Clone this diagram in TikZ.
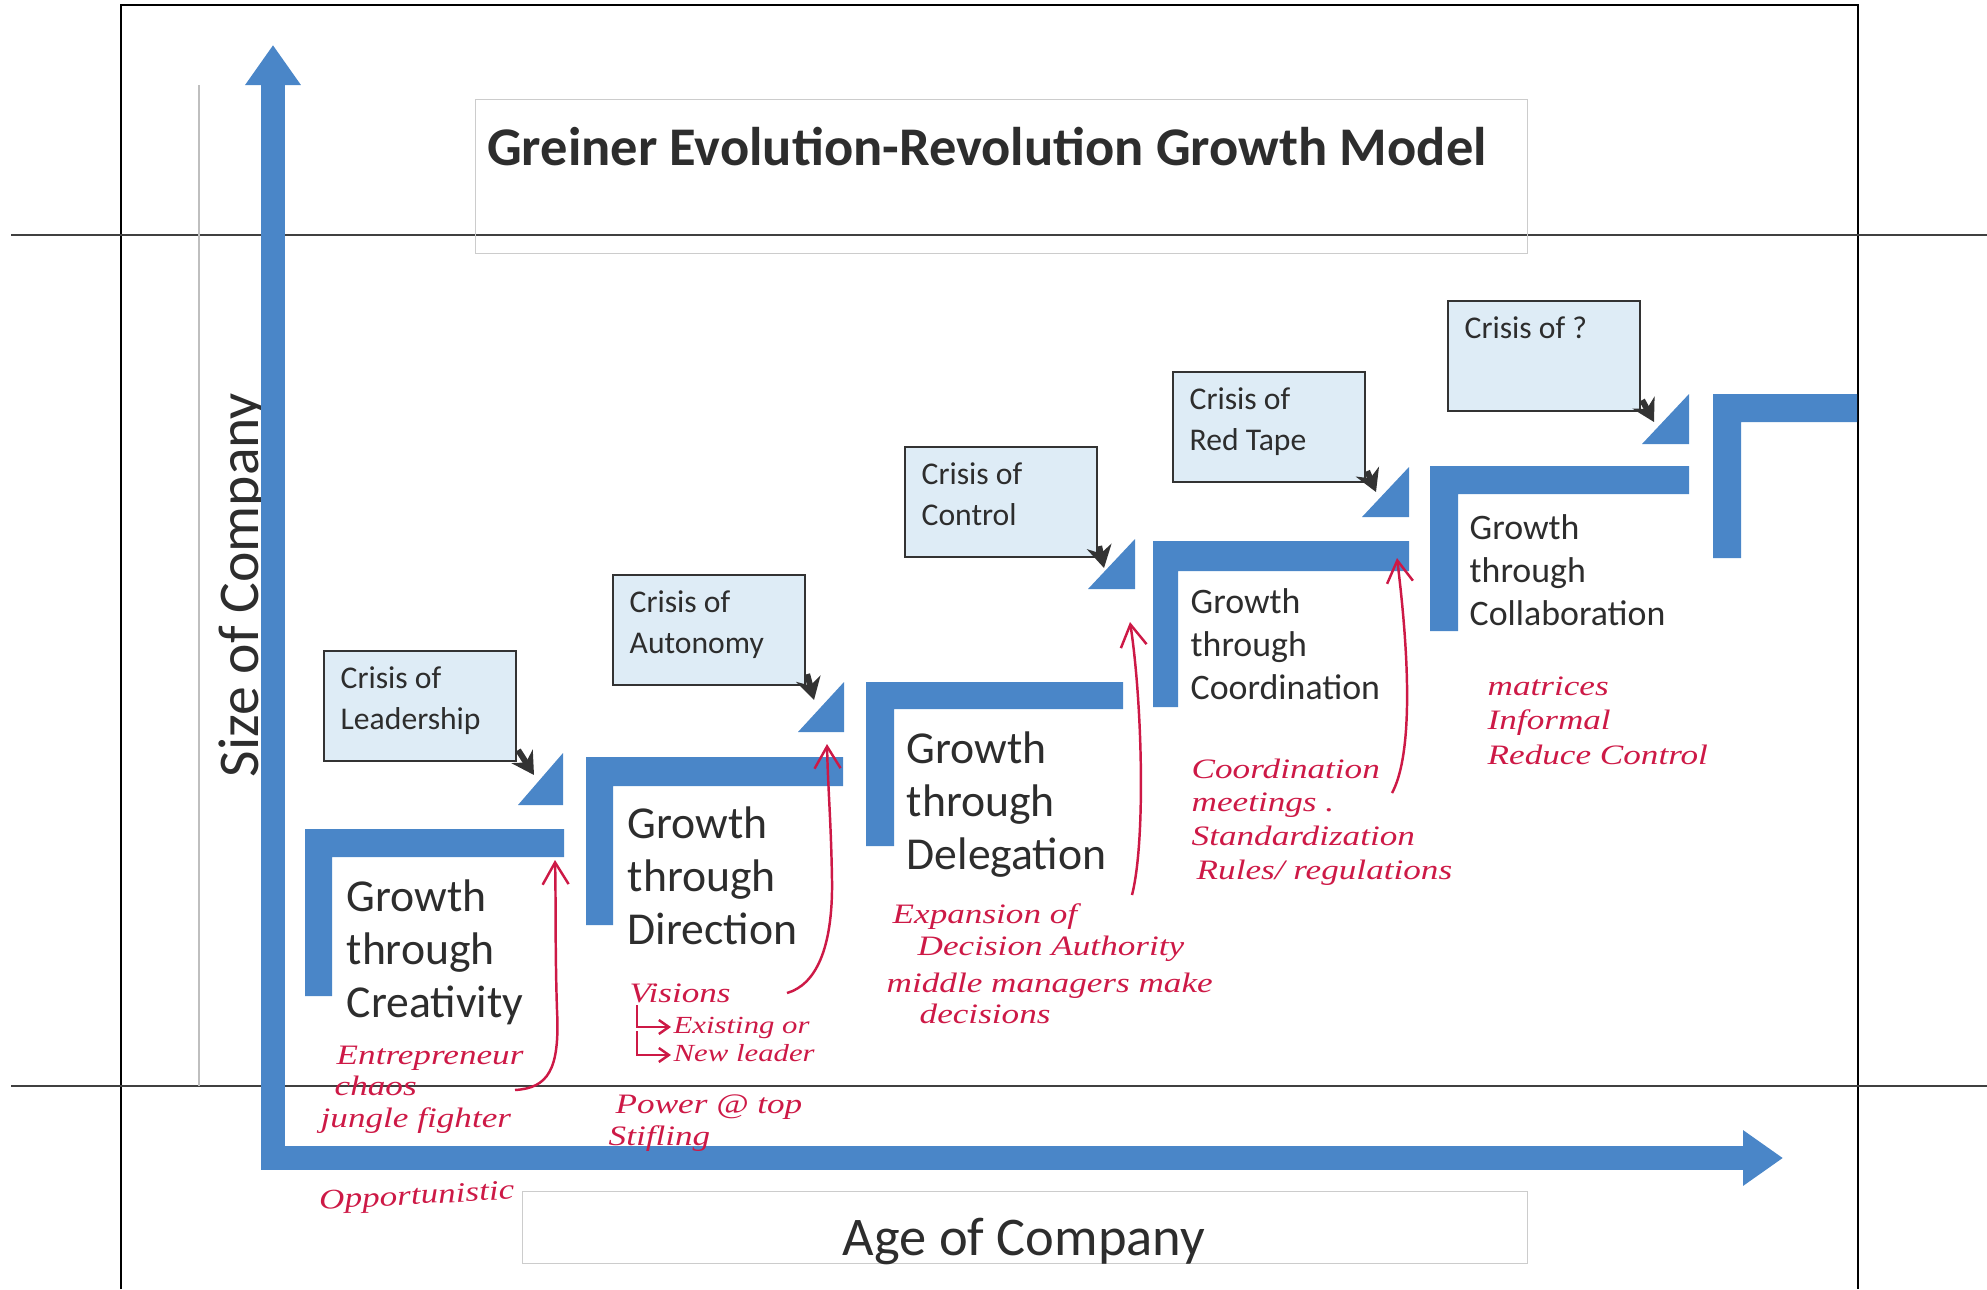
\documentclass[tikz,border=0pt]{standalone}
\usepackage{fontspec}
\setmainfont{Carlito}
\newfontfamily\handfont[FakeStretch=1.25]{Liberation Serif}
\usetikzlibrary{arrows.meta,positioning,calc}

\definecolor{stepblue}{RGB}{74,134,200}
\definecolor{crisisfill}{RGB}{222,236,246}
\definecolor{pen}{RGB}{205,25,70}
\definecolor{ink}{RGB}{45,45,45}

\begin{document}
\begin{tikzpicture}[
    x=0.1mm, y=-0.1mm,
    crisis/.style={rectangle, draw=black!80, fill=crisisfill, line width=0.6pt, anchor=north west, minimum width=19.2mm, minimum height=11mm, inner sep=0pt},
    crisistext/.style={anchor=north west, align=left, inner sep=0pt, text=ink, font=\fontsize{9}{11.6}\selectfont},
    growth/.style={anchor=north west, align=left, inner sep=0pt, text=ink, font=\fontsize{13}{15.1}\selectfont},
    growthsmall/.style={growth, font=\fontsize{10.2}{12.2}\selectfont},
    note/.style={anchor=north west, align=left, inner sep=0pt, text=pen, font=\handfont\itshape\fontsize{8}{9}\selectfont},
    notearrow/.style={draw=pen, line width=0.7pt, -{Straight Barb[length=2.2mm,width=2.6mm]}},
    forkarrow/.style={draw=pen, line width=0.7pt, -{Straight Barb[length=1mm,width=1.4mm]}},
    crisisarrow/.style={draw=black!80, line width=1.7pt, -{Stealth[length=2.2mm,width=2.5mm]}},
    axis/.style={draw=stepblue, line width=2.4mm, line join=miter, {Triangle[length=4mm,width=5.3mm]}-{Triangle[length=4mm,width=5.3mm]}},
    scanline/.style={draw=black!75, line width=0.7pt}
]
\useasboundingbox (0,0) rectangle (1987,1289);

% page frame and ruling
\draw[line width=0.8pt] (121,1289) -- (121,5) -- (1858,5) -- (1858,1289);
\draw[scanline] (11,235) -- (1987,235);
\draw[scanline] (11,1086) -- (1987,1086);
\draw[black!25, line width=0.4pt] (199,85) -- (199,1086);

% Title and axis labels
\node[draw=black!20, minimum width=105.2mm, minimum height=15.4mm, anchor=north west] (titlebox) at (475,99) {};
\node[anchor=base, text=ink, font=\bfseries\fontsize{15.5}{18}\selectfont] (title) at (987,165) {Greiner Evolution-Revolution Growth Model};
\node[draw=black!20, minimum width=100.5mm, minimum height=7.2mm, anchor=north west] (agebox) at (522,1191) {};
\node[text=ink, font=\fontsize{15.5}{18}\selectfont] (agelabel) at (1024,1241) {Age of Company};
\node[rotate=90, text=ink, font=\fontsize{16.4}{19}\selectfont] (sizelabel) at (243,585) {Size of Company};

% Axes
\draw[axis] (273,45) -- (273,1158) -- (1783,1158);

% Steps
\fill[stepblue] (305,996) -- (305,829) -- (564,829) -- (564,857) -- (332,857) -- (332,996) -- cycle;
\fill[stepblue] (586,925) -- (586,757) -- (843,757) -- (843,786) -- (613,786) -- (613,925) -- cycle;
\fill[stepblue] (866,846) -- (866,682) -- (1123,682) -- (1123,709) -- (894,709) -- (894,846) -- cycle;
\fill[stepblue] (1153,707) -- (1153,541) -- (1409,541) -- (1409,571) -- (1178,571) -- (1178,707) -- cycle;
\fill[stepblue] (1430,631) -- (1430,466) -- (1689,466) -- (1689,494) -- (1458,494) -- (1458,631) -- cycle;
\fill[stepblue] (1713,558) -- (1713,394) -- (1857,394) -- (1857,422) -- (1741,422) -- (1741,558) -- cycle;

% Revolution wedges
\fill[stepblue] (518,805) -- (563,753) -- (563,805) -- cycle;
\fill[stepblue] (798,732) -- (844,682) -- (844,732) -- cycle;
\fill[stepblue] (1088,589) -- (1135,539) -- (1135,589) -- cycle;
\fill[stepblue] (1362,517) -- (1409,467) -- (1409,517) -- cycle;
\fill[stepblue] (1642,444) -- (1689,394) -- (1689,444) -- cycle;
\coordinate (w1) at (534,775);
\coordinate (w2) at (814,700);
\coordinate (w3) at (1104,568);
\coordinate (w4) at (1376,492);
\coordinate (w5) at (1654,422);

% Growth phases
\node[growth] (g1) at (346,879) {Growth\\through\\Creativity};
\node[growth] (g2) at (627,806) {Growth\\through\\Direction};
\node[growth] (g3) at (906,731) {Growth\\through\\Delegation};
\node[growthsmall] (g4) at (1190,588) {Growth\\through\\Coordination};
\node[growthsmall] (g5) at (1469,514) {Growth\\through\\Collaboration};

% Crises
\node[crisis] (c1) at (323,650) {};
\node[crisistext] (c1txt) at ([shift={(17,16)}]c1.north west) {Crisis of\\Leadership};
\node[crisis] (c2) at (612,574) {};
\node[crisistext] (c2txt) at ([shift={(17,16)}]c2.north west) {Crisis of\\Autonomy};
\node[crisis] (c3) at (904,446) {};
\node[crisistext] (c3txt) at ([shift={(17,16)}]c3.north west) {Crisis of\\Control};
\node[crisis] (c4) at (1172,371) {};
\node[crisistext] (c4txt) at ([shift={(17,16)}]c4.north west) {Crisis of\\Red Tape};
\node[crisis] (c5) at (1447,300) {};
\node[crisistext] (c5txt) at ([shift={(17,16)}]c5.north west) {Crisis of ?};

\draw[crisisarrow] ([shift={(1,-12)}]c1.south east) -- (w1);
\draw[crisisarrow] ([shift={(1,-12)}]c2.south east) -- (w2);
\draw[crisisarrow] ([shift={(1,-12)}]c3.south east) -- (w3);
\draw[crisisarrow] ([shift={(1,-12)}]c4.south east) -- (w4);
\draw[crisisarrow] ([shift={(1,-12)}]c5.south east) -- (w5);

% pen notes
\node[note] (n1) at (320,1045) {\hspace*{1.6mm}Entrepreneur\\\hspace*{1.4mm}chaos\\jungle fighter};
\node[note, rotate=3] (n1op) at (318,1190) {Opportunistic};

\node[note] (n2a) at (629,983) {Visions};
\node[note, font=\handfont\itshape\fontsize{7}{8}\selectfont] (n2b) at (673,1016) {Existing or\\New leader};
\node[note] (n2c) at (608,1094) {\hspace*{0.7mm}Power @ top\\Stifling};
\draw[forkarrow] ([shift={(8,2)}]n2a.south west) |- ([shift={(-2,11)}]n2b.north west);
\draw[forkarrow] ([shift={(8,28)}]n2a.south west) |- ([shift={(-2,39)}]n2b.north west);

\node[note] (n3a) at (892,903) {Expansion of\\\hspace*{2.5mm}Decision Authority};
\node[note] (n3b) at (886,972) {middle managers make\\\hspace*{3.3mm}decisions};

\node[note, font=\handfont\itshape\fontsize{8}{9.6}\selectfont] (n4) at (1191,758) {Coordination\\meetings .\\Standardization\\\hspace*{0.5mm}Rules/ regulations};

\node[note, font=\handfont\itshape\fontsize{8}{9.8}\selectfont] (n5) at (1487,676) {matrices\\Informal\\Reduce Control};

% pen arrows up to the steps
\coordinate (a1) at (515,1090);
\coordinate (a2) at (787,993);
\coordinate (a3) at (1132,895);
\coordinate (a4) at (1392,793);
\coordinate (e1) at (555,860);
\coordinate (e2) at (827,744);
\coordinate (e3) at (1130,622);
\coordinate (e4) at (1397,558);
\draw[notearrow] (a1) .. controls (548,1088) and (560,1070) .. (557,1010) .. controls (555,950) and (556,900) .. (e1);
\draw[notearrow] (a2) .. controls (815,985) and (833,950) .. (832,880) .. controls (831,820) and (828,790) .. (e2);
\draw[notearrow] (a3) .. controls (1146,840) and (1142,700) .. (e3);
\draw[notearrow] (a4) .. controls (1410,760) and (1412,680) .. (e4);

\end{tikzpicture}
\end{document}
